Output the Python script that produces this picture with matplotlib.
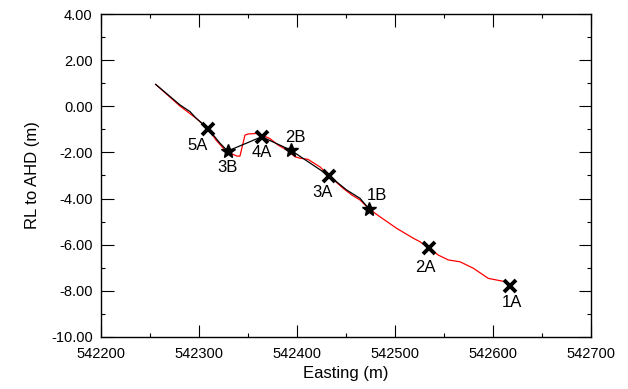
import numpy as np
import matplotlib.pyplot as plt
from matplotlib.ticker import MultipleLocator, FormatStrFormatter

plt.rcParams['font.family'] = ['Liberation Sans', 'DejaVu Sans']

# black profile (surveyed line)
black_e = [542255.8, 542280.6, 542290.8, 542296.9, 542309.5, 542321.4, 542329.3,
           542364.0, 542393.6, 542433.0, 542450.7, 542464.3, 542473.5]
black_rl = [0.95, 0.06, -0.23, -0.51, -0.98, -1.60, -1.94,
            -1.32, -1.90, -3.02, -3.63, -3.99, -4.45]

# red profile
red_e = [542255.8, 542280.6, 542298.0, 542309.5, 542317.3, 542325.5, 542331.6,
         542338.8, 542341.8, 542346.9, 542350.0, 542358.2, 542364.3, 542372.4,
         542380.6, 542389.8, 542398.0, 542403.1, 542411.2, 542423.5, 542433.0,
         542447.2, 542456.1, 542464.3, 542473.5, 542484.7, 542501.7, 542518.7,
         542525.5, 542535.0, 542544.2, 542554.4, 542566.3, 542579.9, 542595.2,
         542612.2, 542618.1]
red_rl = [0.95, 0.01, -0.55, -0.98, -1.46, -1.85, -2.03,
          -2.16, -2.16, -1.25, -1.20, -1.18, -1.25, -1.40,
          -1.68, -1.90, -2.19, -2.25, -2.30, -2.63, -3.02,
          -3.56, -3.85, -4.06, -4.45, -4.79, -5.29, -5.72,
          -5.87, -6.16, -6.45, -6.66, -6.74, -7.02, -7.46,
          -7.60, -7.79]

# bore locations
a_names = ['5A', '4A', '3A', '2A', '1A']
a_e = [542309.5, 542364.0, 542433.0, 542535.0, 542617.5]
a_rl = [-0.98, -1.32, -3.02, -6.16, -7.80]
a_off = [(-8, -12), (0, -11), (-5, -12), (-3, -14), (1, -12)]

b_names = ['3B', '2B', '1B']
b_e = [542329.3, 542393.6, 542473.5]
b_rl = [-1.94, -1.90, -4.45]
b_off = [(0, -12), (3, 9), (6, 10)]

fig = plt.figure(figsize=(6.28, 3.89), dpi=100)
ax = fig.add_axes([0.1608, 0.1337, 0.7803, 0.8303])

ax.plot(red_e, red_rl, color='red', lw=0.9, zorder=2)
ax.plot(black_e, black_rl, color='black', lw=0.9, zorder=3)
ax.plot(a_e, a_rl, ls='none', marker='x', ms=8.5, mew=2.8, color='black', zorder=4)
ax.plot(b_e, b_rl, ls='none', marker='*', ms=10.5, color='black', zorder=4)

for n, x, y, o in zip(a_names + b_names, a_e + b_e, a_rl + b_rl, a_off + b_off):
    ax.annotate(n, (x, y), xytext=o, textcoords='offset points',
                ha='center', va='center', fontsize=12)

ax.set_xlim(542200, 542700)
ax.set_ylim(-10, 4)
ax.xaxis.set_major_locator(MultipleLocator(100))
ax.xaxis.set_minor_locator(MultipleLocator(50))
ax.yaxis.set_major_locator(MultipleLocator(2))
ax.yaxis.set_minor_locator(MultipleLocator(1))
ax.yaxis.set_major_formatter(FormatStrFormatter('%.2f'))
ax.xaxis.set_major_formatter(FormatStrFormatter('%d'))

ax.tick_params(which='both', direction='in', top=True, right=True, labelsize=10.5)
ax.tick_params(which='major', length=9, width=0.8)
ax.tick_params(which='minor', length=3, width=0.8)
ax.tick_params(axis='y', pad=6)
ax.tick_params(axis='x', pad=7.5)
for s in ax.spines.values():
    s.set_linewidth(1.0)

ax.set_xlabel('Easting (m)', fontsize=12, labelpad=3)
ax.set_ylabel('RL to AHD (m)', fontsize=12, labelpad=8)

fig.savefig('out.png', dpi=100)
